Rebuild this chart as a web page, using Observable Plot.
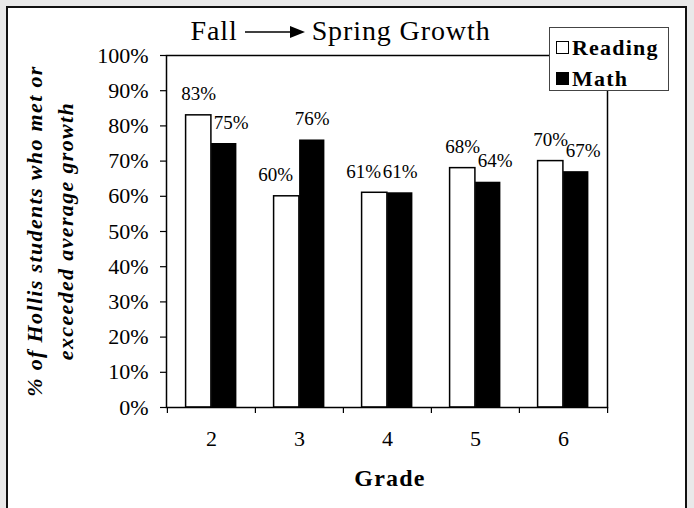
<!DOCTYPE html>
<html><head><meta charset="utf-8">
<script src="https://cdn.jsdelivr.net/npm/d3@7"></script>
<script src="https://cdn.jsdelivr.net/npm/@observablehq/plot@0.6"></script>
<style>
html,body{margin:0;padding:0;background:#e9e9e9;}
#wrap{position:relative;width:694px;height:508px;overflow:hidden;font-family:"Liberation Serif",serif;color:#000;}
#box{position:absolute;left:6px;top:6px;width:681px;height:520px;border:2px solid #111;background:#fff;box-sizing:border-box;}
#chart{position:absolute;left:0;top:0;}
#chart svg{background:transparent !important;}
#title{position:absolute;left:0;width:681px;top:16px;text-align:center;font-size:28px;line-height:30px;letter-spacing:0.9px;white-space:nowrap;}
#title svg{vertical-align:middle;margin:0 7px 4px 7px;}
#legend{position:absolute;left:549px;top:27px;width:120px;height:64px;box-sizing:border-box;border:1px solid #444;background:#fff;font-weight:bold;font-size:22px;letter-spacing:1.2px;}
.item{position:absolute;left:6px;height:30px;line-height:30px;white-space:nowrap;}
.sw{display:inline-block;width:13px;height:13px;box-sizing:border-box;border:1.5px solid #000;margin-right:3px;vertical-align:1px;}
#xlabel{position:absolute;left:290px;width:200px;top:463px;text-align:center;font-weight:bold;font-size:24px;line-height:30px;letter-spacing:1.2px;}
#ylabel{position:absolute;left:50px;top:231px;width:440px;transform:translate(-50%,-50%) rotate(-90deg);text-align:center;font-weight:bold;font-style:italic;font-size:22px;line-height:31px;letter-spacing:1.35px;white-space:nowrap;}
</style></head>
<body>
<div id="wrap">
  <div id="box"></div>
  <div id="chart"></div>
  <div id="title"></div>
  <div id="legend"></div>
  <div id="xlabel"></div>
  <div id="ylabel"></div>
</div>
<script>
const grades = ["2", "3", "4", "5", "6"];
const readingValues = [0.83, 0.60, 0.61, 0.68, 0.70];
const mathValues = [0.75, 0.76, 0.61, 0.64, 0.67];
const yTicks = [0, 0.1, 0.2, 0.3, 0.4, 0.5, 0.6, 0.7, 0.8, 0.9, 1.0];
const seriesNames = ["Reading", "Math"];
const titleParts = ["Fall", "Spring Growth"];
const xTitle = "Grade";
const yTitleLines = ["% of Hollis students who met or", "exceeded average growth"];

const rows = grades.map((g, i) => ({grade: g, reading: readingValues[i], math: mathValues[i]}));
const pct = d3.format(".0%");

const W = 694, H = 508, mL = 166, mR = 87, mT = 55, mB = 101;
const bw = (W - mL - mR) / grades.length;
const barW = 25.5;
const lbl = {fontSize: 19, dy: -21};

// label nudges (as in the reference, to keep neighbouring labels apart)
const readingShifted = d => d.grade === "3" || d.grade === "4";
const mathShifted = d => d.grade === "2" || d.grade === "5" || d.grade === "6";

const chart = Plot.plot({
  width: W, height: H,
  marginLeft: mL, marginRight: mR, marginTop: mT, marginBottom: mB,
  style: {fontFamily: "Liberation Serif", fontSize: "22px", background: "transparent", color: "#000", overflow: "visible"},
  x: {type: "band", domain: grades, padding: 0, axis: null},
  y: {domain: [0, 1], axis: null},
  marks: [
    Plot.barY(rows, {x: "grade", y: "reading", fill: "white", stroke: "black", strokeWidth: 1.5,
      insetLeft: bw / 2 - barW, insetRight: bw / 2}),
    Plot.barY(rows, {x: "grade", y: "math", fill: "black",
      insetLeft: bw / 2, insetRight: bw / 2 - barW}),
    Plot.frame({stroke: "black", strokeWidth: 1.5}),
    Plot.axisY({ticks: yTicks, tickFormat: pct, tickSize: 6, tickPadding: 12, fontSize: 22, label: null, strokeWidth: 1.2}),
    Plot.axisX({tickSize: 0, tickPadding: 23, fontSize: 22, label: null}),
    Plot.ruleX(grades, {x: d => d, dx: -bw / 2, y1: 0, y2: 0, insetBottom: -6, strokeWidth: 1.2}),
    Plot.ruleX(grades.slice(-1), {x: d => d, dx: bw / 2, y1: 0, y2: 0, insetBottom: -6, strokeWidth: 1.2}),
    Plot.text(rows, {...lbl, filter: d => !readingShifted(d), x: "grade", y: "reading", text: d => pct(d.reading), dx: -barW / 2}),
    Plot.text(rows, {...lbl, filter: readingShifted, x: "grade", y: "reading", text: d => pct(d.reading), dx: -barW / 2 - 11}),
    Plot.text(rows, {...lbl, filter: d => !mathShifted(d), x: "grade", y: "math", text: d => pct(d.math), dx: barW / 2}),
    Plot.text(rows, {...lbl, filter: mathShifted, x: "grade", y: "math", text: d => pct(d.math), dx: barW / 2 + 7})
  ]
});
document.getElementById("chart").appendChild(chart);

// Title with arrow
const t = document.getElementById("title");
t.appendChild(document.createTextNode(titleParts[0]));
t.insertAdjacentHTML("beforeend", '<svg width="60" height="14" viewBox="0 0 60 14" aria-label="to"><line x1="0" y1="7" x2="47" y2="7" stroke="#000" stroke-width="1.6"/><polygon points="45,1 60,7 45,13" fill="#000"/></svg>');
t.appendChild(document.createTextNode(titleParts[1]));

// Legend
const lg = document.getElementById("legend");
seriesNames.forEach((name, i) => {
  const it = document.createElement("div");
  it.className = "item";
  it.style.top = (5 + i * 31) + "px";
  const sw = document.createElement("span");
  sw.className = "sw";
  sw.style.background = i === 0 ? "#fff" : "#000";
  it.appendChild(sw);
  it.appendChild(document.createTextNode(name));
  lg.appendChild(it);
});

document.getElementById("xlabel").textContent = xTitle;
document.getElementById("ylabel").innerHTML = yTitleLines.join("<br>");
</script>
</body></html>
